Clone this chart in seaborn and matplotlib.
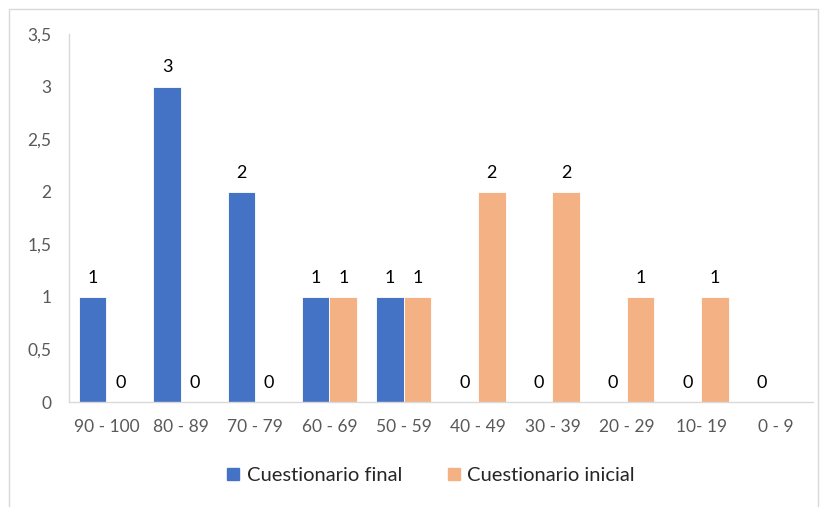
import pandas as pd
import numpy as np
import seaborn as sns
import matplotlib.pyplot as plt
from matplotlib.ticker import FuncFormatter, MultipleLocator
from matplotlib.lines import Line2D

rangos = ['90 - 100', '80 - 89', '70 - 79', '60 - 69', '50 - 59',
          '40 - 49', '30 - 39', '20 - 29', '10- 19', '0 - 9']
final = [1, 3, 2, 1, 1, 0, 0, 0, 0, 0]
inicial = [0, 0, 0, 1, 1, 2, 2, 1, 1, np.nan]
series = ['Cuestionario final', 'Cuestionario inicial']
colores = ['#4472C4', '#F4B183']

df = pd.DataFrame({'Rango': rangos * 2,
                   'Cantidad': final + inicial,
                   'Serie': [series[0]] * len(rangos) + [series[1]] * len(rangos)})

sns.set_theme(style='white')
plt.rcParams['font.family'] = ['Lato', 'DejaVu Sans']

fig = plt.figure(figsize=(8.25, 5.07), dpi=100)
ax = fig.add_axes([0.084, 0.207, 0.901, 0.726])

sns.barplot(data=df, x='Rango', y='Cantidad', hue='Serie', order=rangos,
            hue_order=series, palette=colores, width=0.74, ax=ax,
            saturation=1, legend=False, linewidth=0.6, edgecolor='white')

for cont in ax.containers:
    ax.bar_label(cont, fmt='%g', padding=8, fontsize=13, color='black')

ax.set_ylim(0, 3.5)
ax.yaxis.set_major_locator(MultipleLocator(0.5))
ax.yaxis.set_major_formatter(FuncFormatter(lambda v, p: f'{v:g}'.replace('.', ',')))
ax.set_xlabel('')
ax.set_ylabel('')
ax.tick_params(axis='both', length=0, colors='#595959', labelsize=12.5)
ax.tick_params(axis='x', pad=12)
ax.tick_params(axis='y', pad=13)

for s in ['top', 'right']:
    ax.spines[s].set_visible(False)
ax.spines['left'].set_color('#D9D9D9')
ax.spines['bottom'].set_color('#D9D9D9')
ax.spines['left'].set_linewidth(1)
ax.spines['bottom'].set_linewidth(1)

handles = [Line2D([], [], marker='s', linestyle='', markersize=9,
                  markerfacecolor=c, markeredgecolor=c) for c in colores]
fig.legend(handles, series, loc='center', bbox_to_anchor=(0.519, 0.063),
           ncol=2, frameon=False, fontsize=14.5, handletextpad=0.05,
           columnspacing=2.0, handlelength=1.2)

# borde del gráfico
borde = plt.Rectangle((9 / 825, -0.05), 809 / 825, 1 - 9 / 507 + 0.05,
                      transform=fig.transFigure, fill=False,
                      edgecolor='#D9D9D9', linewidth=1)
fig.patches.append(borde)

fig.savefig('out.png', dpi=100)
